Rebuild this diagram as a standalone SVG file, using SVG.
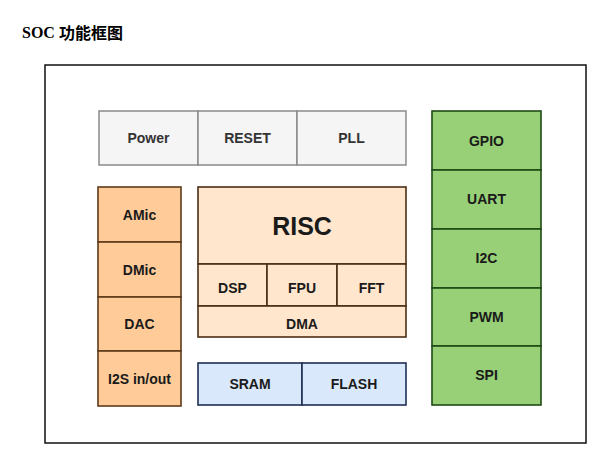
<svg xmlns="http://www.w3.org/2000/svg" width="613" height="473" viewBox="0 0 613 473">
<style>
text{font-family:"Liberation Sans",Arial,sans-serif;font-weight:bold;text-anchor:middle;dominant-baseline:central;font-size:14px;fill:#1a1a1a}
.gray rect{fill:#f5f5f5;stroke:#8a8a8a;stroke-width:1.5}
.gray text{fill:#333}
.or rect{fill:#ffcc99;stroke:#5e3a1a;stroke-width:1.6}
.risc rect{fill:#ffe6cc;stroke:#4a2e14;stroke-width:1.6}
.blue rect{fill:#dae8fc;stroke:#1f2f55;stroke-width:1.6}
.green rect{fill:#97d077;stroke:#1f4a14;stroke-width:1.6}
</style>
<rect width="613" height="473" fill="#fff"/>
<text x="22" y="32" style="text-anchor:start;font-size:16px;font-family:'Liberation Serif','Noto Sans CJK SC',serif;fill:#000">SOC <tspan style="font-family:'Noto Sans CJK SC',sans-serif">功能框图</tspan></text>
<rect id="soc" x="45" y="65" width="541" height="378" fill="#fff" stroke="#111" stroke-width="1.5"/>
<g id="power" class="gray"><rect x="99" y="111" width="99" height="54"/><text x="148.5" y="138">Power</text></g>
<g id="reset" class="gray"><rect x="198" y="111" width="99" height="54"/><text x="247.5" y="138">RESET</text></g>
<g id="pll" class="gray"><rect x="297" y="111" width="109" height="54"/><text x="351.5" y="138">PLL</text></g>
<g id="amic" class="or"><rect x="98" y="187" width="83" height="55"/><text x="139.5" y="214.5">AMic</text></g>
<g id="dmic" class="or"><rect x="98" y="242" width="83" height="55"/><text x="139.5" y="269.5">DMic</text></g>
<g id="dac" class="or"><rect x="98" y="297" width="83" height="54"/><text x="139.5" y="324">DAC</text></g>
<g id="i2s" class="or"><rect x="98" y="351" width="83" height="55"/><text x="139.5" y="378.5">I2S in/out</text></g>
<g id="risc" class="risc"><rect x="198" y="187" width="208" height="77"/><text x="302" y="226" style="font-size:25px">RISC</text></g>
<g id="dsp" class="risc"><rect x="198" y="264" width="69" height="42"/><text x="232.5" y="288">DSP</text></g>
<g id="fpu" class="risc"><rect x="267" y="264" width="70" height="42"/><text x="302" y="288">FPU</text></g>
<g id="fft" class="risc"><rect x="337" y="264" width="69" height="42"/><text x="371.5" y="288">FFT</text></g>
<g id="dma" class="risc"><rect x="198" y="306" width="208" height="31"/><text x="302" y="323.5">DMA</text></g>
<g id="sram" class="blue"><rect x="198" y="363" width="104" height="42"/><text x="250" y="384">SRAM</text></g>
<g id="flash" class="blue"><rect x="302" y="363" width="104" height="42"/><text x="354" y="384">FLASH</text></g>
<g id="gpio" class="green"><rect x="432" y="111" width="109" height="59"/><text x="486.5" y="141">GPIO</text></g>
<g id="uart" class="green"><rect x="432" y="170" width="109" height="59"/><text x="486.5" y="199">UART</text></g>
<g id="i2c" class="green"><rect x="432" y="229" width="109" height="59"/><text x="486.5" y="258">I2C</text></g>
<g id="pwm" class="green"><rect x="432" y="288" width="109" height="58"/><text x="486.5" y="316.5">PWM</text></g>
<g id="spi" class="green"><rect x="432" y="346" width="109" height="59"/><text x="486.5" y="375">SPI</text></g>
<g id="connectors"></g>
</svg>
